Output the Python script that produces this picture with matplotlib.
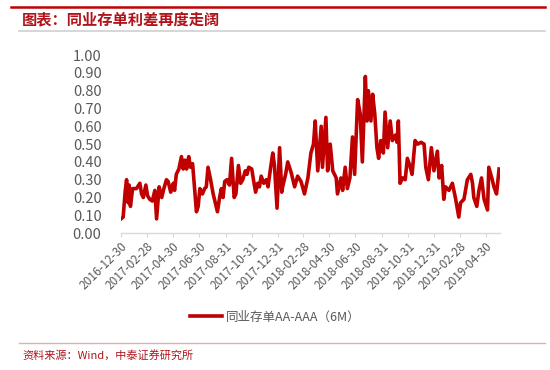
import matplotlib
matplotlib.use("Agg")
import matplotlib.pyplot as plt
import pandas as pd

plt.rcParams['font.family'] = ['Noto Sans CJK SC', 'DejaVu Sans']

# 同业存单AA-AAA（6M）利差, 读图估计
dates = [
    "2016-12-30", "2017-01-04", "2017-01-09", "2017-01-12", "2017-01-16", "2017-01-18",
    "2017-01-21", "2017-01-26", "2017-02-04", "2017-02-12", "2017-02-16", "2017-02-20",
    "2017-02-26", "2017-03-02", "2017-03-07", "2017-03-13", "2017-03-19", "2017-03-23",
    "2017-03-29", "2017-04-04", "2017-04-09", "2017-04-15", "2017-04-19", "2017-04-25",
    "2017-05-01", "2017-05-04", "2017-05-08", "2017-05-14", "2017-05-20", "2017-05-24",
    "2017-05-28", "2017-06-01", "2017-06-06", "2017-06-10", "2017-06-15", "2017-06-18",
    "2017-06-24", "2017-06-28", "2017-07-02", "2017-07-08", "2017-07-13", "2017-07-17",
    "2017-07-21", "2017-07-27", "2017-08-02", "2017-08-07", "2017-08-12", "2017-08-17",
    "2017-08-21", "2017-08-25", "2017-08-29", "2017-09-03", "2017-09-09", "2017-09-14",
    "2017-09-20", "2017-09-24", "2017-09-30", "2017-10-05", "2017-10-10", "2017-10-16",
    "2017-10-20", "2017-10-24", "2017-10-31", "2017-11-04", "2017-11-09", "2017-11-14",
    "2017-11-18", "2017-11-22", "2017-11-28", "2017-12-04", "2017-12-08", "2017-12-13",
    "2017-12-19", "2017-12-23", "2017-12-29", "2018-01-04", "2018-01-09", "2018-01-11",
    "2018-01-18", "2018-01-23", "2018-01-31", "2018-02-08", "2018-02-15", "2018-02-23",
    "2018-03-03", "2018-03-11", "2018-03-18", "2018-03-24", "2018-03-28", "2018-04-03",
    "2018-04-11", "2018-04-14", "2018-04-22", "2018-04-26", "2018-05-02", "2018-05-08",
    "2018-05-16", "2018-05-19", "2018-05-27", "2018-05-31", "2018-06-06", "2018-06-11",
    "2018-06-17", "2018-06-23", "2018-06-28", "2018-07-05", "2018-07-11", "2018-07-16",
    "2018-07-23", "2018-07-27", "2018-07-30", "2018-08-05", "2018-08-09", "2018-08-14",
    "2018-08-19", "2018-08-23", "2018-08-28", "2018-09-03", "2018-09-07", "2018-09-13",
    "2018-09-19", "2018-09-24", "2018-10-01", "2018-10-05", "2018-10-08", "2018-10-12",
    "2018-10-18", "2018-10-24", "2018-10-29", "2018-11-05", "2018-11-09", "2018-11-16",
    "2018-11-22", "2018-11-30", "2018-12-07", "2018-12-11", "2018-12-17", "2018-12-24",
    "2018-12-30", "2019-01-07", "2019-01-11", "2019-01-17", "2019-01-22", "2019-01-26",
    "2019-02-03", "2019-02-11", "2019-02-18", "2019-02-26", "2019-03-02", "2019-03-10",
    "2019-03-18", "2019-03-26", "2019-03-30", "2019-04-02", "2019-04-09", "2019-04-14",
    "2019-04-20", "2019-04-26", "2019-05-04", "2019-05-07", "2019-05-15", "2019-05-19",
    "2019-05-25", "2019-05-31",
]
spread = [
    0.08, 0.09, 0.24, 0.30, 0.17, 0.27,
    0.15, 0.25, 0.25, 0.28, 0.22, 0.20,
    0.27, 0.21, 0.19, 0.18, 0.24, 0.08,
    0.26, 0.20, 0.25, 0.30, 0.29, 0.23,
    0.28, 0.24, 0.33, 0.36, 0.43, 0.36,
    0.41, 0.36, 0.43, 0.37, 0.39, 0.30,
    0.12, 0.15, 0.25, 0.22, 0.25, 0.26,
    0.37, 0.30, 0.22, 0.17, 0.12, 0.20,
    0.25, 0.20, 0.29, 0.30, 0.27, 0.42,
    0.20, 0.22, 0.38, 0.28, 0.30, 0.35,
    0.33, 0.37, 0.36, 0.30, 0.23, 0.28,
    0.26, 0.32, 0.28, 0.30, 0.26, 0.35,
    0.45, 0.38, 0.14, 0.48, 0.23, 0.26,
    0.33, 0.40, 0.34, 0.26, 0.32, 0.29,
    0.22, 0.31, 0.45, 0.50, 0.63, 0.35,
    0.60, 0.37, 0.65, 0.35, 0.50, 0.35,
    0.31, 0.22, 0.31, 0.24, 0.37, 0.25,
    0.31, 0.54, 0.33, 0.75, 0.67, 0.40,
    0.88, 0.63, 0.80, 0.63, 0.78, 0.67,
    0.48, 0.42, 0.52, 0.45, 0.68, 0.48,
    0.63, 0.52, 0.55, 0.51, 0.63, 0.28,
    0.31, 0.30, 0.42, 0.37, 0.33, 0.52,
    0.50, 0.51, 0.50, 0.37, 0.30, 0.48,
    0.35, 0.46, 0.31, 0.38, 0.19, 0.26,
    0.24, 0.28, 0.20, 0.09, 0.17, 0.19,
    0.30, 0.33, 0.28, 0.20, 0.15, 0.24,
    0.31, 0.19, 0.13, 0.37, 0.30, 0.26,
    0.22, 0.36,
]
tick_dates = ["2016-12-30", "2017-02-28", "2017-04-30", "2017-06-30", "2017-08-31",
              "2017-10-31", "2017-12-31", "2018-02-28", "2018-04-30", "2018-06-30",
              "2018-08-31", "2018-10-31", "2018-12-31", "2019-02-28", "2019-04-30"]
yticks = [0.0, 0.1, 0.2, 0.3, 0.4, 0.5, 0.6, 0.7, 0.8, 0.9, 1.0]

title = "图表：同业存单利差再度走阔"
series_name = "同业存单AA-AAA（6M）"
source = "资料来源：Wind，中泰证券研究所"

x = pd.to_datetime(dates)
ticks = pd.to_datetime(tick_dates)

fig = plt.figure(figsize=(5.5, 3.7), dpi=100)
ax = fig.add_axes([0.22, 0.37, 0.689, 0.481])

ax.plot(x, spread, color='#C00000', lw=2.6, label=series_name)

ax.set_ylim(0, 1.0)
ax.set_yticks(yticks)
ax.set_yticklabels([f"{v:.2f}" for v in yticks])
ax.set_xlim(pd.Timestamp("2016-12-30"), pd.Timestamp("2019-06-02"))
ax.set_xticks(ticks)
ax.set_xticklabels(tick_dates, rotation=45, ha='right', rotation_mode='anchor')

for s in ['top', 'right', 'left']:
    ax.spines[s].set_visible(False)
ax.spines['bottom'].set_color('#d9d9d9')
ax.spines['bottom'].set_linewidth(1.0)
ax.tick_params(axis='y', length=0, labelsize=10.5, labelcolor='#595959', pad=14)
ax.tick_params(axis='x', length=3, color='#d9d9d9', labelsize=8.5, labelcolor='#595959', pad=2)

leg = fig.legend(loc='center', bbox_to_anchor=(0.5, 0.143), frameon=False,
                 fontsize=9, handlelength=2.6, handletextpad=0.3)
for t in leg.get_texts():
    t.set_color('#595959')

# 标题与来源
fig.add_artist(plt.Line2D([0.02, 0.99], [0.981, 0.981], color='#C00000', lw=1.8))
fig.add_artist(plt.Line2D([0.035, 0.99], [0.916, 0.916], color='#d0d0d0', lw=1.2))
fig.text(0.04, 0.948, title, color='#B0141A', fontsize=11, fontweight='bold',
         va='center', ha='left')
fig.add_artist(plt.Line2D([0.035, 0.99], [0.073, 0.073], color='#e0b0b0', lw=1.0))
fig.text(0.04, 0.04, source, color='#B0141A', fontsize=8, va='center', ha='left')

fig.savefig("out.png", dpi=100, facecolor='white')
